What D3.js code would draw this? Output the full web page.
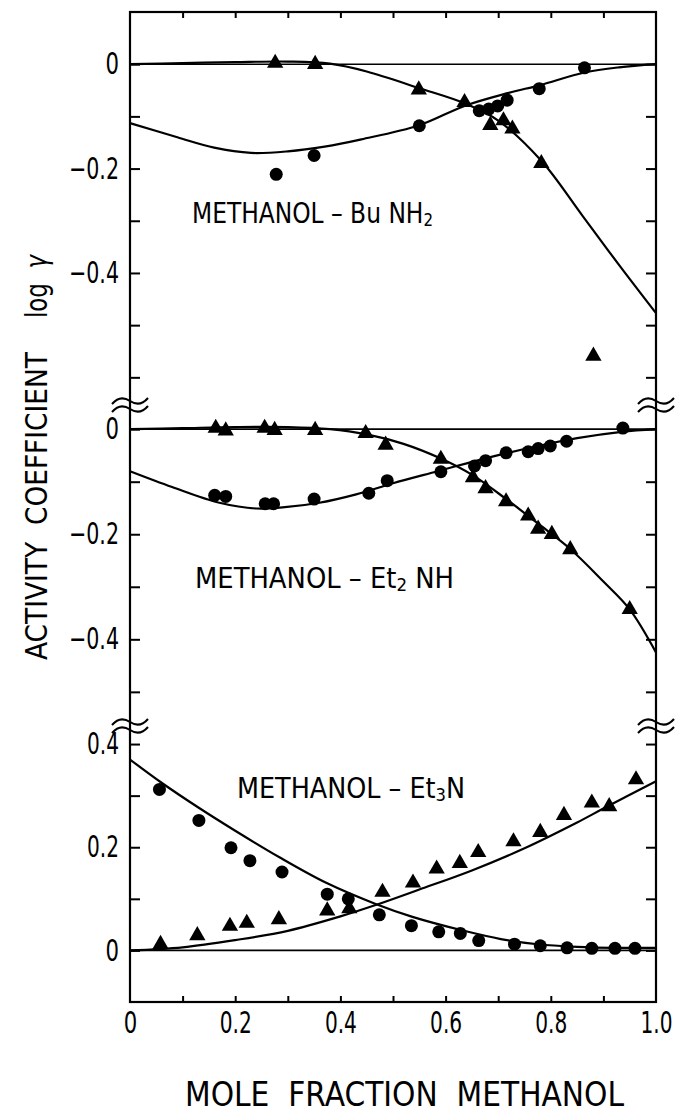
<!DOCTYPE html>
<html>
<head>
<meta charset="utf-8">
<script src="https://cdn.jsdelivr.net/npm/d3@7"></script>
<style>
  body { margin: 0; background: #fff; }
  svg text { font-family: "Liberation Sans Narrow", "DejaVu Sans Condensed", "Roboto Condensed", "Arial Narrow", sans-serif; fill: #000; }
</style>
</head>
<body>
<div id="chart"></div>
<script>
// ---- data ----
var xTicks = [0, 0.2, 0.4, 0.6, 0.8, 1.0];
var xTickLabels = ["0", "0.2", "0.4", "0.6", "0.8", "1.0"];
var xMinorTicks = [0.1, 0.2, 0.3, 0.4, 0.5, 0.6, 0.7, 0.8, 0.9];

var topYTicks = [0, -0.1, -0.2, -0.3, -0.4, -0.5, -0.6];
var topYLabels = [0, -0.2, -0.4];
var midYTicks = [0, -0.1, -0.2, -0.3, -0.4, -0.5];
var midYLabels = [0, -0.2, -0.4];
var botYTicks = [0.4, 0.3, 0.2, 0.1, 0];
var botYLabels = [0.4, 0.2, 0];

// METHANOL - BuNH2
var buMethanolPts = [[0.278, -0.211], [0.35, -0.175], [0.55, -0.118], [0.664, -0.089], [0.682, -0.086],
  [0.699, -0.08], [0.717, -0.069], [0.778, -0.047], [0.864, -0.007]];
var buAminePts = [[0.276, 0.002], [0.352, 0.0], [0.549, -0.049], [0.636, -0.073], [0.685, -0.117],
  [0.71, -0.108], [0.727, -0.124], [0.782, -0.19], [0.881, -0.559]];
var buMethanolCurve = [[0, -0.113], [0.09, -0.14], [0.16, -0.16], [0.23, -0.17], [0.30, -0.167], [0.37, -0.158],
  [0.44, -0.144], [0.55, -0.117], [0.636, -0.08], [0.72, -0.055], [0.78, -0.04], [0.864, -0.016], [0.93, -0.006], [1.0, 0]];
var buAmineCurve = [[0, 0], [0.1, 0.002], [0.2, 0.004], [0.3, 0.005], [0.38, 0.001], [0.45, -0.014], [0.55, -0.046],
  [0.636, -0.075], [0.70, -0.108], [0.782, -0.185], [0.86, -0.29], [0.93, -0.385], [1.0, -0.477]];

// METHANOL - Et2NH
var et2MethanolPts = [[0.161, -0.126], [0.182, -0.128], [0.257, -0.142], [0.273, -0.142], [0.35, -0.133],
  [0.454, -0.122], [0.489, -0.098], [0.591, -0.081], [0.655, -0.07], [0.676, -0.06], [0.715, -0.045],
  [0.757, -0.043], [0.776, -0.037], [0.799, -0.032], [0.83, -0.023], [0.937, 0.002]];
var et2AminePts = [[0.163, 0.002], [0.182, -0.003], [0.256, 0.002], [0.275, -0.002], [0.352, -0.002],
  [0.448, -0.008], [0.486, -0.03], [0.591, -0.057], [0.652, -0.092], [0.676, -0.113], [0.715, -0.138],
  [0.757, -0.165], [0.776, -0.19], [0.802, -0.2], [0.837, -0.229], [0.95, -0.343]];
var et2MethanolCurve = [[0, -0.08], [0.08, -0.11], [0.17, -0.14], [0.24, -0.151], [0.29, -0.149], [0.36, -0.14],
  [0.43, -0.124], [0.5, -0.103], [0.585, -0.08], [0.64, -0.065], [0.71, -0.047], [0.78, -0.031], [0.85, -0.017],
  [0.935, -0.005], [1.0, 0]];
var et2AmineCurve = [[0, 0], [0.1, 0.002], [0.2, 0.004], [0.3, 0.004], [0.38, 0.0], [0.45, -0.01], [0.52, -0.028],
  [0.591, -0.056], [0.652, -0.088], [0.715, -0.133], [0.776, -0.18], [0.837, -0.228], [0.9, -0.29], [0.95, -0.343], [1.0, -0.425]];

// METHANOL - Et3N
var et3MethanolPts = [[0.056, 0.312], [0.131, 0.252], [0.192, 0.199], [0.228, 0.174], [0.289, 0.152],
  [0.375, 0.109], [0.415, 0.10], [0.474, 0.069], [0.535, 0.048], [0.587, 0.036], [0.628, 0.033],
  [0.663, 0.019], [0.731, 0.012], [0.78, 0.009], [0.831, 0.005], [0.878, 0.004], [0.922, 0.004], [0.96, 0.004]];
var et3AminePts = [[0.058, 0.012], [0.128, 0.029], [0.19, 0.047], [0.222, 0.053], [0.283, 0.06],
  [0.375, 0.077], [0.417, 0.081], [0.48, 0.113], [0.538, 0.131], [0.583, 0.158], [0.627, 0.169],
  [0.662, 0.19], [0.729, 0.211], [0.78, 0.229], [0.825, 0.262], [0.878, 0.286], [0.911, 0.279], [0.962, 0.331]];
var et3MethanolCurve = [[0, 0.37], [0.06, 0.325], [0.13, 0.277], [0.2, 0.232], [0.285, 0.18], [0.375, 0.13],
  [0.467, 0.09], [0.537, 0.065], [0.635, 0.038], [0.705, 0.022], [0.775, 0.012], [0.85, 0.007], [0.92, 0.005], [1.0, 0.005]];
var et3AmineCurve = [[0, 0], [0.1, 0.006], [0.2, 0.02], [0.3, 0.038], [0.4, 0.066], [0.467, 0.088], [0.55, 0.118],
  [0.65, 0.155], [0.75, 0.198], [0.85, 0.248], [0.9, 0.275], [1.0, 0.328]];

// ---- layout ----
var width = 677, height = 1111;
var fLeft = 130, fRight = 656, fTop = 12, fBottom = 1002;
var breaks = [405, 726];

var svg = d3.select('#chart').append('svg')
    .attr('width', width)
    .attr('height', height);

var x = d3.scaleLinear().domain([0, 1]).range([fLeft, fRight]);

var panels = [
  { y: d3.scaleLinear().domain([0.1, -0.653]).range([fTop, breaks[0]]), ticks: topYTicks, labels: topYLabels,
    methanolPts: buMethanolPts, aminePts: buAminePts, methanolCurve: buMethanolCurve, amineCurve: buAmineCurve },
  { y: d3.scaleLinear().domain([0.046, -0.565]).range([breaks[0], breaks[1]]), ticks: midYTicks, labels: midYLabels,
    methanolPts: et2MethanolPts, aminePts: et2AminePts, methanolCurve: et2MethanolCurve, amineCurve: et2AmineCurve },
  { y: d3.scaleLinear().domain([0.435, -0.1]).range([breaks[1], fBottom]), ticks: botYTicks, labels: botYLabels,
    methanolPts: et3MethanolPts, aminePts: et3AminePts, methanolCurve: et3MethanolCurve, amineCurve: et3AmineCurve }
];

var fmt = function(d) { return d === 0 ? "0" : d3.format(".1f")(d); };

// squeeze tick labels into the narrow lettering of the original
function narrow(sel) {
  sel.each(function() {
    var s = this.textContent;
    if (!s) return;
    var w = 0;
    for (var i = 0; i < s.length; i++) w += (s[i] === '.' ? 5 : (s[i] === '\u2212' ? 18 : 13.5));
    d3.select(this).attr('textLength', w).attr('lengthAdjust', 'spacingAndGlyphs');
  });
}

function styleAxis(g, size) {
  g.select('.domain').remove();
  g.attr('font-family', null);
  g.selectAll('line').attr('stroke', '#000').attr('stroke-width', 2);
  g.selectAll('text').attr('font-size', size).call(narrow);
}

// frame
svg.append('rect')
    .attr('x', fLeft).attr('y', fTop)
    .attr('width', fRight - fLeft).attr('height', fBottom - fTop)
    .attr('fill', 'none').attr('stroke', '#000').attr('stroke-width', 2.2);

// x ticks, top and bottom, pointing inward
svg.append('g')
    .attr('transform', 'translate(0,' + fTop + ')')
    .call(d3.axisTop(x).tickValues(xMinorTicks).tickSize(-6).tickFormat(''))
    .call(styleAxis, 30);
svg.append('g')
    .attr('transform', 'translate(0,' + fBottom + ')')
    .call(d3.axisBottom(x).tickValues(xMinorTicks).tickSize(-6).tickFormat(''))
    .call(styleAxis, 30);
svg.append('g')
    .attr('transform', 'translate(0,' + fBottom + ')')
    .call(d3.axisBottom(x).tickValues(xTicks).tickSize(0).tickPadding(10)
      .tickFormat(function(d, i) { return xTickLabels[i]; }))
    .call(styleAxis, 30);

var line = function(y) {
  return d3.line()
      .x(function(d) { return x(d[0]); })
      .y(function(d) { return y(d[1]); })
      .curve(d3.curveCatmullRom.alpha(0.5));
};

var tri = d3.symbol().type(d3.symbolTriangle).size(115);

panels.forEach(function(p) {
  var y = p.y;

  svg.append('g')
      .attr('transform', 'translate(' + fLeft + ',0)')
      .call(d3.axisLeft(y).tickValues(p.ticks).tickSize(-10).tickFormat(''))
      .call(styleAxis, 30);
  svg.append('g')
      .attr('transform', 'translate(' + fRight + ',0)')
      .call(d3.axisRight(y).tickValues(p.ticks).tickSize(-10).tickFormat(''))
      .call(styleAxis, 30);
  svg.append('g')
      .attr('transform', 'translate(' + fLeft + ',0)')
      .call(d3.axisLeft(y).tickValues(p.labels).tickSize(0).tickPadding(11).tickFormat(fmt))
      .call(styleAxis, 30);

  // zero line
  svg.append('line')
      .attr('x1', x(0)).attr('x2', x(1))
      .attr('y1', y(0)).attr('y2', y(0))
      .attr('stroke', '#000').attr('stroke-width', 1.6);

  [p.methanolCurve, p.amineCurve].forEach(function(c) {
    svg.append('path')
        .datum(c)
        .attr('d', line(y))
        .attr('fill', 'none')
        .attr('stroke', '#000')
        .attr('stroke-width', 2.2);
  });

  svg.append('g').selectAll('circle')
      .data(p.methanolPts)
      .enter().append('circle')
        .attr('cx', function(d) { return x(d[0]); })
        .attr('cy', function(d) { return y(d[1]); })
        .attr('r', 6.5)
        .attr('fill', '#000');

  svg.append('g').selectAll('path')
      .data(p.aminePts)
      .enter().append('path')
        .attr('d', tri)
        .attr('transform', function(d) { return 'translate(' + x(d[0]) + ',' + y(d[1]) + ')'; })
        .attr('fill', '#000');
});

// axis break marks
breaks.forEach(function(by) {
  [fLeft, fRight].forEach(function(bx) {
    [-4, 4].forEach(function(o) {
      svg.append('path')
          .attr('d', 'M-18,3 C-12,-4 -6,-4 0,0 C6,4 12,4 18,-3')
          .attr('transform', 'translate(' + bx + ',' + (by + o) + ')')
          .attr('fill', 'none')
          .attr('stroke', '#000')
          .attr('stroke-width', 2);
    });
  });
});

// panel labels
function label(xp, yp, len, parts) {
  var t = svg.append('text')
      .attr('x', xp).attr('y', yp)
      .attr('font-size', 28)
      .attr('textLength', len)
      .attr('lengthAdjust', 'spacingAndGlyphs');
  parts.forEach(function(s) {
    var ts = t.append('tspan').text(s[0]);
    if (s[1]) ts.attr('font-size', 18).attr('dy', 3);
    else if (s[2]) ts.attr('dy', -3);
  });
}
label(192, 223, 241, [["METHANOL – Bu NH"], ["2", true]]);
label(195, 588, 259, [["METHANOL – Et"], ["2", true], [" NH", false, true]]);
label(237, 798, 228, [["METHANOL – Et"], ["3", true], ["N", false, true]]);

// axis titles
svg.append('text')
    .attr('x', 185).attr('y', 1106)
    .attr('font-size', 33)
    .attr('textLength', 439)
    .attr('lengthAdjust', 'spacingAndGlyphs')
    .attr('xml:space', 'preserve')
    .text('MOLE  FRACTION  METHANOL');

svg.append('text')
    .attr('transform', 'translate(47,660) rotate(-90)')
    .attr('font-size', 30)
    .attr('textLength', 308)
    .attr('lengthAdjust', 'spacingAndGlyphs')
    .attr('xml:space', 'preserve')
    .text('ACTIVITY  COEFFICIENT');

svg.append('text')
    .attr('transform', 'translate(47,318) rotate(-90)')
    .attr('font-size', 30)
    .attr('textLength', 63)
    .attr('lengthAdjust', 'spacingAndGlyphs')
    .attr('xml:space', 'preserve')
    .text('log  ')
  .append('tspan')
    .attr('font-style', 'italic')
    .text('γ');
</script>
</body>
</html>
